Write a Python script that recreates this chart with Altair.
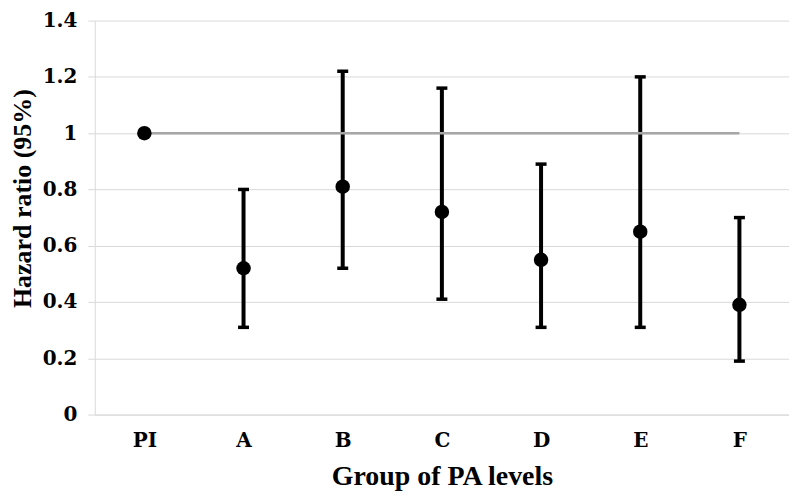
import altair as alt
import pandas as pd

categories = ["PI", "A", "B", "C", "D", "E", "F"]
hazard_ratio = [1.0, 0.52, 0.81, 0.72, 0.55, 0.65, 0.39]
lower = [None, 0.31, 0.52, 0.41, 0.31, 0.31, 0.19]
upper = [None, 0.80, 1.22, 1.16, 0.89, 1.20, 0.70]
ref_categories = ["PI", "F"]
ref_value = 1.0
y_ticks = [0, 0.2, 0.4, 0.6, 0.8, 1.0, 1.2, 1.4]

df = pd.DataFrame({"group": categories, "hr": hazard_ratio, "lo": lower, "hi": upper})
err = df.dropna().reset_index(drop=True)
ref = pd.DataFrame({"group": ref_categories, "hr": [ref_value] * len(ref_categories)})

TITLE_FONT = "Liberation Serif"
LABEL_FONT = "DejaVu Serif"
GRID = "#d9d9d9"

x_axis = alt.Axis(
    title="Group of PA levels", labelAngle=0, ticks=False, domainColor=GRID,
    labelFontSize=20, labelPadding=16, titleFontSize=28,
    titleX=348, titleY=70, titleBaseline="alphabetic", grid=False,
)
y_axis = alt.Axis(
    title="Hazard ratio (95%)", values=y_ticks, format=".1~f", grid=True,
    tickSize=7, tickColor=GRID, domainColor=GRID, labelPadding=11,
    labelFontSize=20, titleFontSize=26, titleX=-72, titleY=178,
    titleAngle=-90, titleAlign="center", titleBaseline="middle",
)
x_scale = alt.Scale(type="point", domain=categories, padding=0.5)
y_scale = alt.Scale(domain=[0, 1.4], nice=False)


def X():
    return alt.X("group:N", scale=x_scale, axis=x_axis)


bars = alt.Chart(err).mark_rule(color="black", strokeWidth=4).encode(
    x=X(), y=alt.Y("lo:Q", scale=y_scale, axis=y_axis), y2="hi:Q"
)
caps_lo = alt.Chart(err).mark_tick(color="black", thickness=3.5, size=11, opacity=1).encode(
    x=X(), y=alt.Y("lo:Q", scale=y_scale, axis=y_axis)
)
caps_hi = alt.Chart(err).mark_tick(color="black", thickness=3.5, size=11, opacity=1).encode(
    x=X(), y=alt.Y("hi:Q", scale=y_scale, axis=y_axis)
)
ref_line = alt.Chart(ref).mark_line(color="#a6a6a6", strokeWidth=2.5).encode(
    x=X(), y=alt.Y("hr:Q", scale=y_scale, axis=y_axis)
)
points = alt.Chart(df).mark_circle(size=210, color="black", opacity=1).encode(
    x=X(), y=alt.Y("hr:Q", scale=y_scale, axis=y_axis)
)

chart = (
    alt.layer(bars, caps_lo, caps_hi, ref_line, points)
    .properties(
        width=696, height=395,
        autosize=alt.AutoSizeParams(type="none"),
        padding={"left": 87, "top": 12, "right": 0, "bottom": 80},
        background="white",
    )
    .configure_view(stroke=None)
    .configure_axis(
        labelFont=LABEL_FONT, titleFont=TITLE_FONT, labelFontWeight="bold", titleFontWeight="bold",
        labelColor="black", titleColor="black", gridColor=GRID, gridWidth=1,
    )
)

chart.save("out.html", embed_options={"renderer": "svg", "actions": False})
